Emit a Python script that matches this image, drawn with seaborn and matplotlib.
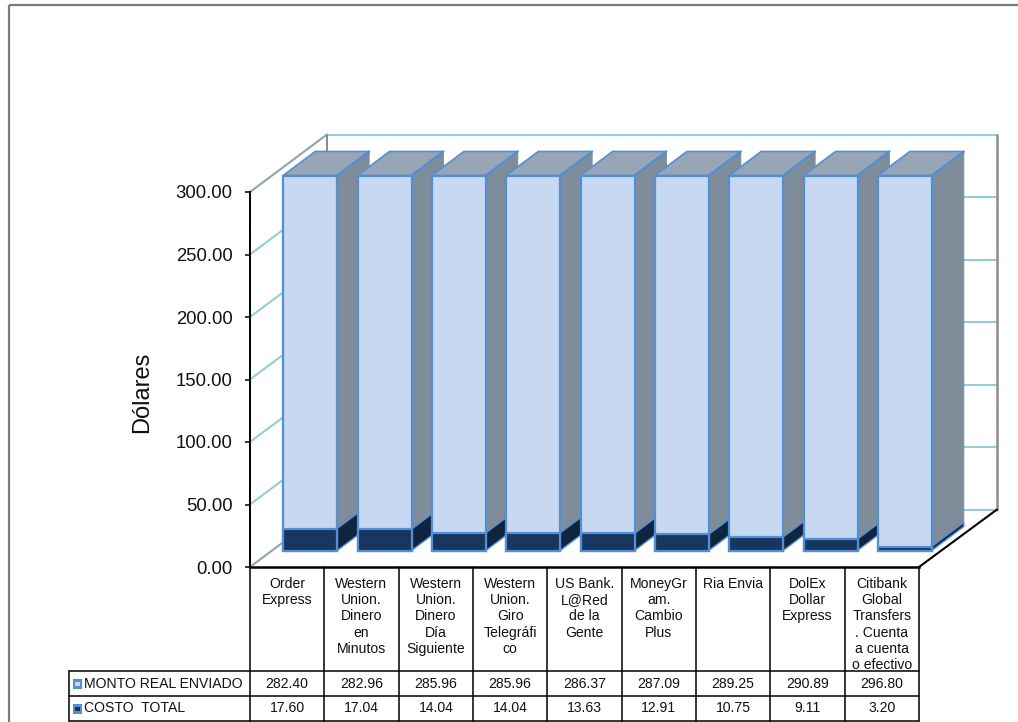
"""Barras apiladas con aspecto 3D y tabla de datos debajo (costo de enviar 300 dólares)."""

import matplotlib
matplotlib.use("Agg")
import matplotlib.pyplot as plt
from matplotlib.patches import Rectangle
import pandas as pd
import seaborn as sns

CATEGORIES = ["Order\nExpress", "Western\nUnion.\nDinero\nen\nMinutos",
              "Western\nUnion.\nDinero\nDía\nSiguiente",
              "Western\nUnion.\nGiro\nTelegráfi\nco",
              "US Bank.\nL@Red\nde la\nGente", "MoneyGr\nam.\nCambio\nPlus",
              "Ria Envia", "DolEx\nDollar\nExpress",
              "Citibank\nGlobal\nTransfers\n. Cuenta\na cuenta\no efectivo"]
MONTO = [282.40, 282.96, 285.96, 285.96, 286.37, 287.09, 289.25, 290.89, 296.80]
COSTO = [17.60, 17.04, 14.04, 14.04, 13.63, 12.91, 10.75, 9.11, 3.20]
Y_TICKS = [0, 50, 100, 150, 200, 250, 300]
ROW_NAMES = ["MONTO REAL ENVIADO", "COSTO  TOTAL"]

W, H = 1018, 722
# Plano frontal del eje en píxeles
X0, X1, Y0, Y300 = 250, 919, 567, 192
BACK_DX, BACK_DY = 77, 57.5      # desplazamiento de la pared del fondo
BAR_DX, BAR_DY = 23, 16.5        # las barras quedan a media profundidad
DEPTH_X, DEPTH_Y = 32, 24        # profundidad propia de cada barra
BAR_W = 54 / ((X1 - X0) / 9)

C_FRONT, C_FRONT_DK = "#C6D9F1", "#17375E"
C_SIDE, C_SIDE_DK = "#7F8C99", "#0F243E"
C_TOP = "#98A5B5"
C_EDGE = "#558ED5"
C_GRID = "#92CDDC"
C_TEXT = "#111111"
TABLE_FS = 10.1

sns.set_theme(style="white")
plt.rcParams["font.family"] = ["Liberation Sans", "DejaVu Sans"]

fig = plt.figure(figsize=(W / 100, H / 100), dpi=100)


def add_axes(x0, y_bottom, x1, y_top, **kw):
    return fig.add_axes([x0 / W, 1 - y_bottom / H, (x1 - x0) / W, (y_bottom - y_top) / H], **kw)


# Capa de fondo en píxeles: marco, paredes, tabla
bg = fig.add_axes([0, 0, 1, 1], zorder=0)
bg.set_xlim(0, W)
bg.set_ylim(H, 0)
bg.axis("off")
# el marco sale del lienzo por la derecha y por abajo
bg.add_patch(Rectangle((9, 5), W, H, fill=False, ec="#7a7a7a", lw=1.6))

px_per_unit = (Y0 - Y300) / 300
back_right = X1 + BACK_DX + 1
for v in Y_TICKS:
    yf = Y0 - v * px_per_unit
    yb = yf - BACK_DY
    col = "#8FA5AB" if v in (0, 300) else C_GRID
    bg.plot([X0, X0 + BACK_DX], [yf, yb], color=col, lw=1.5)
    bg.plot([X0 + BACK_DX, back_right], [yb, yb], color=C_GRID, lw=1.5)
bg.plot([X0 + BACK_DX] * 2, [Y300 - BACK_DY, Y0 - BACK_DY], color="#8c8c8c", lw=1.5)
bg.plot([back_right] * 2, [Y300 - BACK_DY, Y0 - BACK_DY], color="#8c8c8c", lw=1.8)
bg.plot([X1, back_right], [Y0, Y0 - BACK_DY], color="black", lw=1.5)

# Tabla de datos
step = (X1 - X0) / 9
ROW_Y = [671, 696, 721]
TABLE_LEFT = 69
for yy in ROW_Y:
    bg.plot([TABLE_LEFT, X1], [yy, yy], color="black", lw=1.1)
bg.plot([TABLE_LEFT, TABLE_LEFT], [ROW_Y[0], ROW_Y[2]], color="black", lw=1.1)
for i in range(10):
    bg.plot([X0 + i * step] * 2, [Y0, ROW_Y[2]], color="black", lw=1.1)
for i, label in enumerate(CATEGORIES):
    xc = X0 + (i + 0.5) * step
    bg.text(xc, Y0 + 10, label, ha="center", va="top", fontsize=TABLE_FS, color=C_TEXT,
            linespacing=1.2)
    bg.text(xc, 683.5, f"{MONTO[i]:.2f}", ha="center", va="center", fontsize=TABLE_FS, color=C_TEXT)
    bg.text(xc, 708.5, f"{COSTO[i]:.2f}", ha="center", va="center", fontsize=TABLE_FS, color=C_TEXT)
for name, y_mid, inner in zip(ROW_NAMES, [683.5, 708.5], [C_FRONT, C_FRONT_DK]):
    bg.add_patch(Rectangle((73, y_mid - 4.5), 9.5, 9.5, fc=C_EDGE, ec="none"))
    bg.add_patch(Rectangle((75.5, y_mid - 2), 4.5, 4.5, fc=inner, ec="none"))
    bg.text(84, y_mid, name, ha="left", va="center", fontsize=TABLE_FS, color=C_TEXT)

# Plano frontal: eje Y con su escala
ax = add_axes(X0, Y0, X1, Y300, zorder=1)
ax.patch.set_alpha(0)
ax.set_xlim(-0.5, 8.5)
ax.set_ylim(0, 300)
ax.set_yticks(Y_TICKS)
ax.set_yticklabels([f"{v:.2f}" for v in Y_TICKS], fontsize=13.3, color=C_TEXT)
ax.set_xticks([])
ax.tick_params(axis="y", length=3.6, width=1.1, color="black", left=True, pad=9)
ax.set_ylabel("Dólares", fontsize=17, color=C_TEXT, va="center")
ax.yaxis.set_label_coords((142 - X0) / (X1 - X0), (Y0 - 392) / (Y0 - Y300))
sns.despine(ax=ax, top=True, right=True)
ax.spines["left"].set_color("black")
ax.spines["left"].set_linewidth(1.4)
ax.spines["bottom"].set_color("black")
ax.spines["bottom"].set_linewidth(1.8)

# Barras
ax_bars = add_axes(X0 + BAR_DX, Y0 - BAR_DY, X1 + BAR_DX, Y300 - BAR_DY, zorder=2)
ax_bars.patch.set_alpha(0)

df = pd.DataFrame({"cat": CATEGORIES, "monto": MONTO, "costo": COSTO})
df["total"] = df["monto"] + df["costo"]
dx = DEPTH_X / step
dy = DEPTH_Y / px_per_unit

# primero las caras laterales y superiores de cada barra
for i, row in df.iterrows():
    right = i + BAR_W / 2
    left = i - BAR_W / 2
    ax_bars.fill([right, right + dx, right + dx, right],
                 [row.costo, row.costo + dy, row.total + dy, row.total],
                 fc=C_SIDE, ec=C_SIDE, lw=0.6, zorder=1 + i, clip_on=False)
    ax_bars.fill([right, right + dx, right + dx, right],
                 [0, dy, row.costo + dy, row.costo],
                 fc=C_SIDE_DK, ec=C_EDGE, lw=1.0, zorder=1 + i, clip_on=False)
    ax_bars.fill([left, right, right + dx, left + dx],
                 [row.total, row.total, row.total + dy, row.total + dy],
                 fc=C_TOP, ec=C_EDGE, lw=1.2, zorder=1 + i, clip_on=False)
    ax_bars.plot([right, right + dx], [row.total, row.total + dy], color=C_EDGE, lw=1.6,
                 zorder=2 + i, clip_on=False)

# caras frontales con seaborn
sns.barplot(data=df, x="cat", y="total", color=C_FRONT, saturation=1, width=BAR_W,
            edgecolor=C_EDGE, linewidth=1.6, ax=ax_bars, zorder=20, clip_on=False)
sns.barplot(data=df, x="cat", y="costo", color=C_FRONT_DK, saturation=1, width=BAR_W,
            edgecolor=C_EDGE, linewidth=1.6, ax=ax_bars, zorder=21, clip_on=False)
ax_bars.set_xlim(-0.5, 8.5)
ax_bars.set_ylim(0, 300)
ax_bars.axis("off")

fig.savefig("out.png", dpi=100)
